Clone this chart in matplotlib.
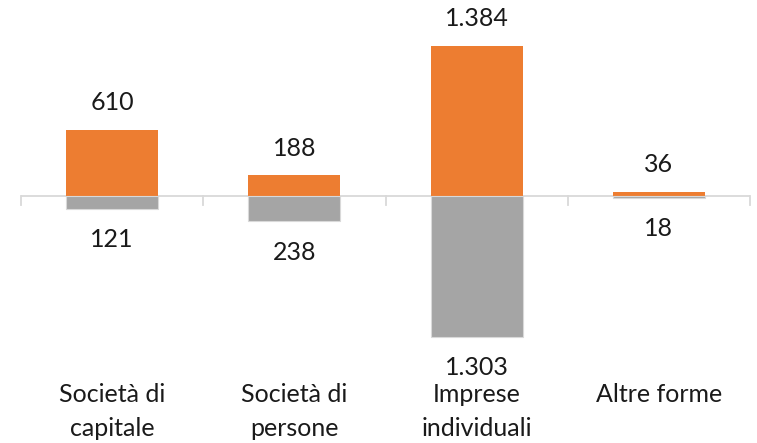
import matplotlib
matplotlib.use("Agg")
import matplotlib.pyplot as plt
import numpy as np

categories = ["Società di\ncapitale", "Società di\npersone", "Imprese\nindividuali", "Altre forme"]
orange_vals = [610, 188, 1384, 36]
gray_vals = [121, 238, 1303, 18]
orange_labels = ["610", "188", "1.384", "36"]
gray_labels = ["121", "238", "1.303", "18"]

W, H = 757, 443
fig = plt.figure(figsize=(W / 100, H / 100), dpi=100)
top_px, bot_px, base_px = 10, 380, 195.7
ax = fig.add_axes([21 / W, (H - bot_px) / H, (750 - 21) / W, (bot_px - top_px) / H])

upp = 1 / 0.1083  # units per pixel
ax.set_ylim(-(bot_px - base_px) * upp, (base_px - top_px) * upp)
ax.set_xlim(-0.5, len(categories) - 0.5)

x = np.arange(len(categories))
ax.bar(x, orange_vals, width=0.505, color="#ED7D31", zorder=2)
ax.bar(x, [-v for v in gray_vals], width=0.505, color="#A5A5A5",
       edgecolor="#d9d9d9", linewidth=0.8, zorder=2)

for s in ax.spines.values():
    s.set_visible(False)
ax.axhline(0, color="#d9d9d9", lw=1.3, zorder=1)
for b in np.arange(-0.5, len(categories), 1.0):
    ax.plot([b, b], [0, -9 * upp], color="#d9d9d9", lw=1.3, zorder=1, clip_on=False)
ax.set_xticks([])
ax.set_yticks([])

font = "Lato"
fs = 18
tc = "#1a1a1a"
for i in range(len(categories)):
    ax.annotate(orange_labels[i], (x[i], orange_vals[i]), xytext=(0, 27 * 0.72),
                textcoords="offset points", ha="center", va="center",
                fontsize=fs, family=font, color=tc)
    ax.annotate(gray_labels[i], (x[i], -gray_vals[i]), xytext=(0, -31 * 0.72),
                textcoords="offset points", ha="center", va="center",
                fontsize=fs, family=font, color=tc)

for i, c in enumerate(categories):
    lines = c.split("\n")
    for j, ln in enumerate(lines):
        ypix = 395 + 33 * j
        fig.text((21 + (i + 0.5) * (729 / 4)) / W, 1 - ypix / H, ln, ha="center", va="center",
                 fontsize=fs, family=font, color=tc)

fig.savefig("out.png", dpi=100)
